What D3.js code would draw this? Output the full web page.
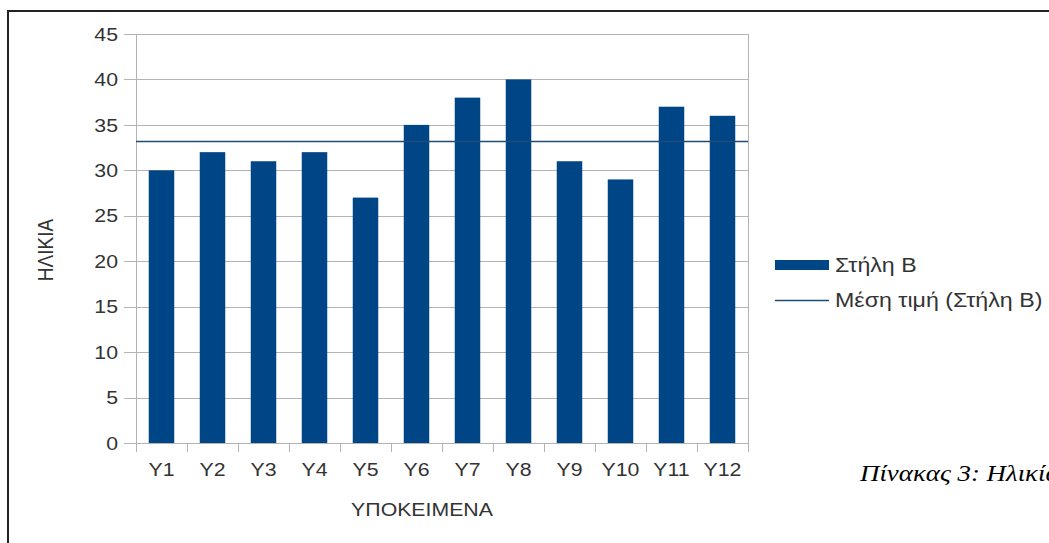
<!DOCTYPE html>
<html><head><meta charset="utf-8">
<script src="https://cdn.jsdelivr.net/npm/d3@7"></script>
<style>html,body{margin:0;padding:0;background:#fff;overflow:hidden}</style>
</head><body>
<svg id="c" width="1049" height="543"></svg>
<script>
const categories = ["Υ1","Υ2","Υ3","Υ4","Υ5","Υ6","Υ7","Υ8","Υ9","Υ10","Υ11","Υ12"];
const ages = [30,32,31,32,27,35,38,40,31,29,37,36];
const yTicks = [0,5,10,15,20,25,30,35,40,45];
const seriesName = "Στήλη Β";
const meanName = "Μέση τιμή (Στήλη Β)";
const xTitle = "ΥΠΟΚΕΙΜΕΝΑ";
const yTitle = "ΗΛΙΚΙΑ";
const caption = "Πίνακας 3: Ηλικία";

const svg = d3.select("#c");
const font = "'Liberation Sans', Arial, sans-serif";
const barColor = "#004586";
const meanColor = "#1f4d7a";
const grid = "#b3b3b3";
const sx = 1.12; // horizontal text stretch seen in the reference
const tcol = "#333";

function label(g, x0, y0, txt, anchor, size, opts) {
  opts = opts || {};
  return g.append("text")
    .attr("transform", `translate(${x0},${y0}) scale(${opts.sx || sx},1)`)
    .attr("dy", opts.dy === undefined ? "0.35em" : opts.dy)
    .attr("text-anchor", anchor)
    .attr("font-family", opts.family || font)
    .attr("font-style", opts.style || "normal")
    .attr("font-size", size)
    .attr("fill", opts.fill || tcol)
    .text(txt);
}

// outer frame (left & top)
svg.append("line").attr("x1",8).attr("x2",8).attr("y1",11).attr("y2",543).attr("stroke","#222").attr("stroke-width",2);
svg.append("line").attr("x1",7).attr("x2",1049).attr("y1",11).attr("y2",11).attr("stroke","#222").attr("stroke-width",2);

const x = d3.scaleBand().domain(categories).range([136,748]).paddingInner(0.5).paddingOuter(0.25);
const y = d3.scaleLinear().domain([0,45]).range([443,34]);

// gridlines
svg.append("g").selectAll("line").data(yTicks).join("line")
  .attr("x1",124).attr("x2",748)
  .attr("y1",d=>Math.round(y(d))+0.5).attr("y2",d=>Math.round(y(d))+0.5)
  .attr("stroke",grid).attr("stroke-width",1);
svg.append("line").attr("x1",748.5).attr("x2",748.5).attr("y1",y(45)).attr("y2",452).attr("stroke",grid);
svg.append("line").attr("x1",136.5).attr("x2",136.5).attr("y1",y(45)).attr("y2",452).attr("stroke",grid);
const step = x.step();
const bounds = categories.map(c => x(c) - x.paddingOuter()*step).concat([748]);
svg.append("g").selectAll("line").data(bounds).join("line")
  .attr("x1",d=>Math.round(d)+0.5).attr("x2",d=>Math.round(d)+0.5)
  .attr("y1",443).attr("y2",452).attr("stroke",grid);

// y tick labels
const gy = svg.append("g");
yTicks.forEach(t => label(gy, 118, y(t), t, "end", 19));

// bars
svg.append("g").selectAll("rect").data(ages).join("rect")
  .attr("x",(d,i)=>x(categories[i])).attr("width",x.bandwidth())
  .attr("y",d=>y(d)).attr("height",d=>y(0)-y(d)).attr("fill",barColor);

// mean line
const mean = d3.mean(ages);
svg.append("line").attr("x1",136).attr("x2",748).attr("y1",y(mean)).attr("y2",y(mean))
  .attr("stroke",meanColor).attr("stroke-width",1.5);

// x labels
const gx = svg.append("g");
categories.forEach(c => label(gx, x(c)+x.bandwidth()/2, 469, c, "middle", 19));

// axis titles
label(svg, 422, 509, xTitle, "middle", 19);
svg.append("text").attr("transform","translate(46,250) rotate(-90) scale(1,1.12)").attr("dy","0.35em").attr("text-anchor","middle")
  .attr("font-family",font).attr("font-size",19).attr("fill",tcol).text(yTitle);

// legend
svg.append("rect").attr("x",775).attr("y",260).attr("width",54).attr("height",10).attr("fill",barColor);
label(svg, 835, 265, seriesName, "start", 20, {sx:1.16});
svg.append("line").attr("x1",775).attr("x2",829).attr("y1",300.5).attr("y2",300.5).attr("stroke",meanColor).attr("stroke-width",1.5);
label(svg, 835, 300, meanName, "start", 20, {sx:1.16});

// caption
label(svg, 860, 481, caption, "start", 24, {dy:0, family:"'Liberation Serif', 'Times New Roman', serif", style:"italic", fill:"#000"});
</script>
</body></html>
